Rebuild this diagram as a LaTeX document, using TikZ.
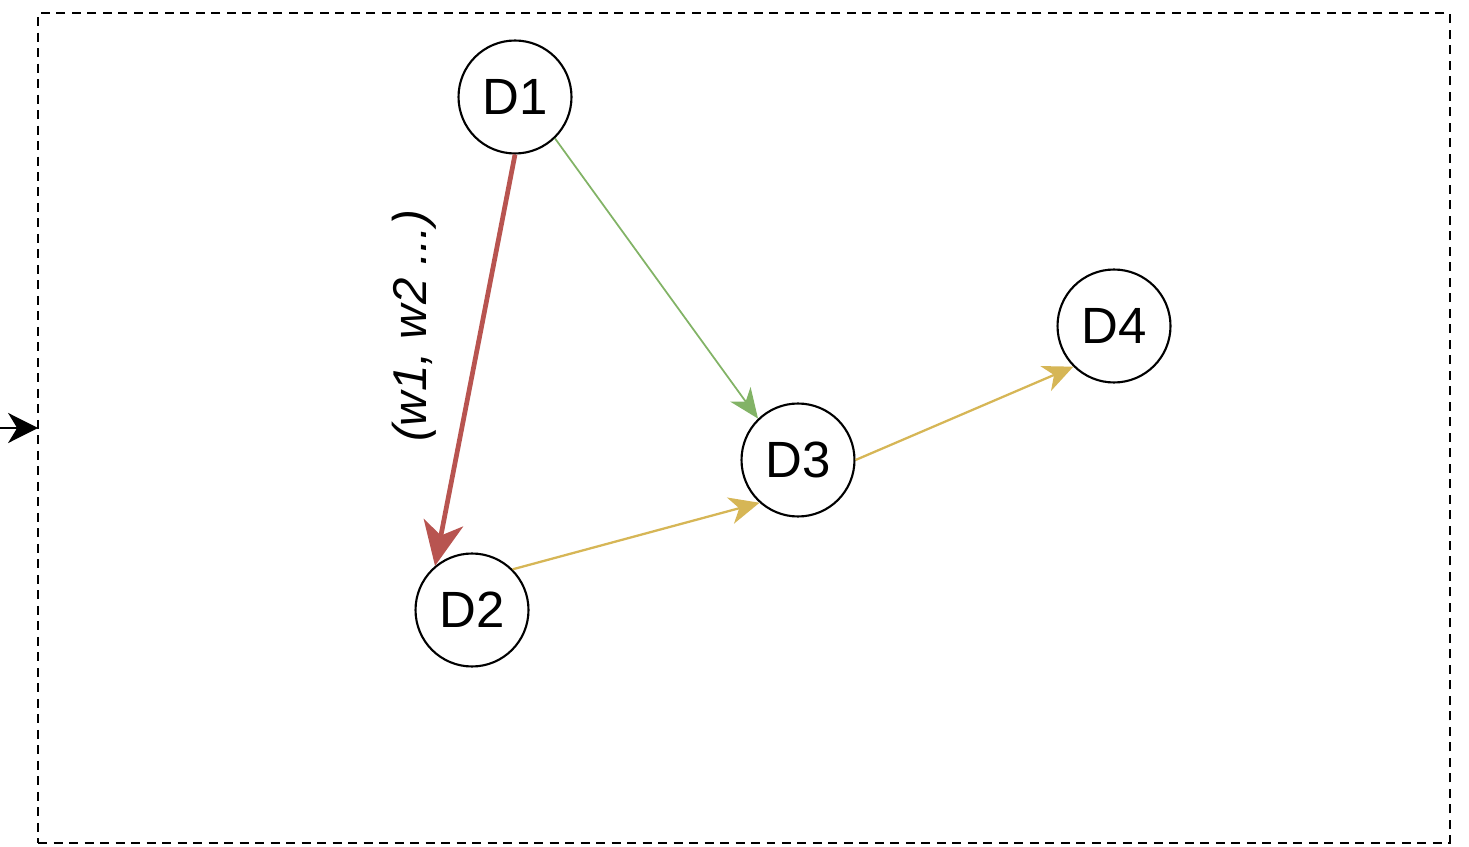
\documentclass[tikz,border=0pt]{standalone}
\usepackage{fontspec}
\setmainfont{Liberation Sans}
\usetikzlibrary{arrows.meta}
\definecolor{edgered}{HTML}{B85450}
\definecolor{edgegreen}{HTML}{82B366}
\definecolor{edgeyellow}{HTML}{D6B656}

\begin{document}
\begin{tikzpicture}[x=0.02cm, y=-0.02cm]
  % Define styles for circles and edges
  \tikzset{
    circle node/.style={circle, draw, line width=1.2pt, minimum size=2.26cm, inner sep=0pt,
      font=\fontsize{29}{32}\selectfont},
    frame node/.style={draw, dashed, line width=1pt, dash pattern=on 0.18cm off 0.13cm,
      minimum width=28.24cm, minimum height=16.6cm, outer sep=0pt, inner sep=0pt},
    red edge/.style={draw=edgered, line width=2.7pt, -{Stealth[length=0.88cm, width=0.8cm, inset=0.26cm]}},
    green edge/.style={draw=edgegreen, line width=1pt, -{Stealth[length=0.6cm, width=0.5cm, inset=0.18cm]}},
    yellow edge/.style={draw=edgeyellow, line width=1.3pt, -{Stealth[length=0.6cm, width=0.54cm, inset=0.18cm]}}
  }
  \useasboundingbox (0,0) rectangle (1469,847);

  % Frame and incoming arrow
  \node[frame node] (frame) at (744,428) {};
  \coordinate (in) at (0,428);
  \draw[line width=1.4pt, -{Stealth[length=0.6cm, width=0.6cm, inset=0.18cm]}] (in) -- (frame.west);

  % Circles
  \node[circle node] (d1) at (515,97) {D1};
  \node[circle node] (d2) at (472,610) {D2};
  \node[circle node] (d3) at (798,460) {D3};
  \node[circle node] (d4) at (1114,326) {D4};

  % Edges
  \draw[red edge] (d1.south) -- (d2.130);
  \draw[green edge] (d1.-46) -- (d3.134);
  \draw[yellow edge] (d2.45) -- (d3.228);
  \draw[yellow edge] (d3.east) -- (d4.225);

  % Label of the red edge
  \node[rotate=90, font=\fontsize{27}{30}\selectfont\itshape] (w) at (414,326) {(w1, w2 ...)};
\end{tikzpicture}
\end{document}
